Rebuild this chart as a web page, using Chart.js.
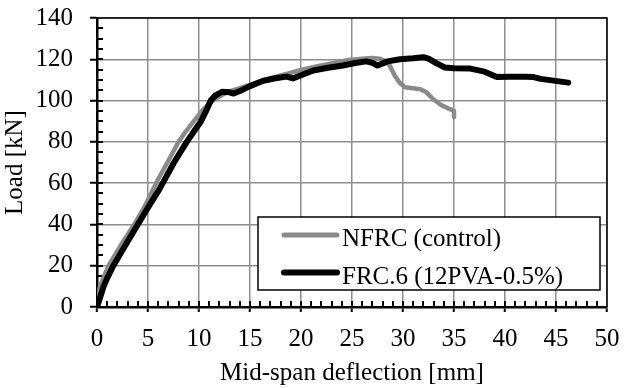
<!DOCTYPE html>
<html>
<head>
<meta charset="utf-8">
<script src="https://cdn.jsdelivr.net/npm/chart.js@4/dist/chart.umd.min.js"></script>
<style>
  html, body { margin: 0; padding: 0; background: #fff; }
  #wrap { width: 624px; height: 388px; position: relative; }
</style>
</head>
<body>
<div id="wrap"><canvas id="chart"></canvas></div>
<script>
// NFRC (control)
const nfrcDeflection = [0, 0.1, 0.3, 0.7, 1.13, 2.35, 3.65, 4.6, 5.4, 6.0, 6.9, 8.0, 8.7, 9.5, 10.3, 11.0, 11.6, 12.3, 13.0, 14.0, 15.5, 17.0, 18.5, 20.0, 21.5, 23.0, 24.5, 26.0, 27.0, 27.7, 28.3, 28.7, 29.2, 29.7, 30.2, 31.0, 31.7, 32.3, 33.0, 33.7, 34.3, 34.8, 35.0, 35.0];
const nfrcLoad = [0, 5, 10, 15, 20, 30, 40, 48, 56, 62, 70, 80, 85, 90, 95, 98.5, 100.8, 102.8, 104.5, 106, 108.5, 110.8, 112.8, 114.8, 116.5, 118, 119.5, 120.3, 120.6, 120.3, 119, 117, 112, 108.5, 106.5, 106, 105.5, 104, 100.5, 98, 96.5, 95.5, 95, 92];

// FRC.6 (12PVA-0.5%)
const frcDeflection = [0, 0.2, 0.65, 1.0, 1.6, 2.8, 4.0, 5.1, 6.05, 6.5, 7.55, 8.8, 9.5, 10.2, 10.7, 11.15, 11.6, 12.3, 13.0, 13.4, 14.0, 15.0, 16.3, 17.5, 18.6, 19.2, 20.0, 21.2, 22.5, 24.1, 25.3, 26.4, 27.0, 27.5, 28.5, 29.7, 31.0, 32.0, 32.5, 33.3, 34.1, 35.0, 36.6, 38.0, 39.2, 40.5, 42.0, 42.8, 43.5, 44.4, 45.3, 46.2];
const frcLoad = [0, 3, 10, 14, 20, 30, 40, 49, 56.5, 60.5, 70, 80, 85, 90, 95, 100, 102.5, 104.3, 104, 103.4, 104.6, 107, 109.6, 110.8, 111.6, 110.7, 112.3, 114.6, 115.8, 117, 118.2, 119, 118.3, 117, 119, 120, 120.5, 121, 120.3, 118, 116, 115.7, 115.5, 114, 111.4, 111.5, 111.5, 111.4, 110.5, 109.9, 109.3, 108.7];

const seriesLabels = ['NFRC (control)', 'FRC.6 (12PVA-0.5%)'];
const xTitle = 'Mid-span deflection [mm]';
const yTitle = 'Load [kN]';

const FONT = '"Liberation Serif", "Times New Roman", serif';
const GRID = '#8e8e8e';

function toPoints(xs, ys) {
  return xs.map((x, i) => ({ x, y: ys[i] }));
}

// inner minor ticks + top/right frame
const frame = {
  id: 'frame',
  beforeDatasetsDraw(chart) {
    const { ctx, chartArea: a, scales: { x, y } } = chart;
    ctx.save();
    ctx.strokeStyle = '#000';
    ctx.lineWidth = 2;
    ctx.beginPath();
    for (let v = 1; v < 50; v++) {
      const px = Math.round(x.getPixelForValue(v));
      ctx.moveTo(px, a.bottom);
      ctx.lineTo(px, a.bottom - 6);
    }
    for (let v = 5; v < 140; v += 5) {
      const py = Math.round(y.getPixelForValue(v));
      ctx.moveTo(a.left, py);
      ctx.lineTo(a.left + 6, py);
    }
    ctx.stroke();
    ctx.lineWidth = 1.5;
    ctx.beginPath();
    ctx.moveTo(a.left, a.top);
    ctx.lineTo(a.right, a.top);
    ctx.lineTo(a.right, a.bottom);
    ctx.stroke();
    ctx.restore();
  },
};

// boxed legend inside the plot
const boxLegend = {
  id: 'boxLegend',
  afterDraw(chart) {
    const { ctx, chartArea: a } = chart;
    const left = a.left + 161, top = a.top + 199;
    const w = 342, h = 73;
    ctx.save();
    ctx.fillStyle = '#fff';
    ctx.fillRect(left, top, w, h);
    ctx.strokeStyle = '#000';
    ctx.lineWidth = 1.5;
    ctx.strokeRect(left, top, w, h);
    ctx.font = '25px ' + FONT;
    ctx.textBaseline = 'alphabetic';
    ctx.fillStyle = '#000';
    chart.data.datasets.forEach((ds, i) => {
      const ly = top + 18 + i * 37.5;
      ctx.strokeStyle = ds.borderColor;
      ctx.lineWidth = i === 0 ? 5 : 6;
      ctx.lineCap = 'round';
      ctx.beginPath();
      ctx.moveTo(left + 26, ly);
      ctx.lineTo(left + 79, ly);
      ctx.stroke();
      ctx.fillText(ds.label, left + 84, ly + 11);
    });
    ctx.restore();
  },
};

new Chart(document.getElementById('chart'), {
  type: 'scatter',
  data: {
    datasets: [
      {
        label: seriesLabels[0],
        data: toPoints(nfrcDeflection, nfrcLoad),
        borderColor: '#8a8a8a',
        borderWidth: 4.5,
        order: 1,
      },
      {
        label: seriesLabels[1],
        data: toPoints(frcDeflection, frcLoad),
        borderColor: '#000',
        borderWidth: 6,
        order: 0,
      },
    ],
  },
  options: {
    responsive: true,
    maintainAspectRatio: false,
    animation: false,
    showLine: true,
    elements: {
      point: { radius: 0, hoverRadius: 0 },
      line: { tension: 0, borderCapStyle: 'round', borderJoinStyle: 'round' },
    },
    layout: { padding: { top: 18, right: 17, left: 0, bottom: 0 } },
    plugins: { legend: { display: false }, tooltip: { enabled: false } },
    scales: {
      x: {
        type: 'linear',
        min: 0,
        max: 50,
        afterFit(scale) {
          scale.height = 81;
          scale.paddingLeft = 0;
          scale.paddingRight = 0;
        },
        ticks: { stepSize: 5, color: '#000', padding: 12, font: { family: FONT, size: 25 } },
        grid: { color: GRID, lineWidth: 1.5, tickColor: '#000', tickLength: 5, tickWidth: 2 },
        border: { color: '#000', width: 2.5 },
        title: { display: true, text: xTitle, color: '#000', padding: 0, font: { family: FONT, size: 25 } },
      },
      y: {
        type: 'linear',
        min: 0,
        max: 140,
        afterFit(scale) {
          scale.width = 97;
          scale.paddingTop = 0;
          scale.paddingBottom = 0;
        },
        ticks: { stepSize: 20, color: '#000', padding: 17, font: { family: FONT, size: 25 } },
        grid: { color: GRID, lineWidth: 1.5, tickColor: '#000', tickLength: 7, tickWidth: 2 },
        border: { color: '#000', width: 2.5 },
        title: { display: true, text: yTitle, color: '#000', padding: 0, font: { family: FONT, size: 25 } },
      },
    },
  },
  plugins: [frame, boxLegend],
});
</script>
</body>
</html>
